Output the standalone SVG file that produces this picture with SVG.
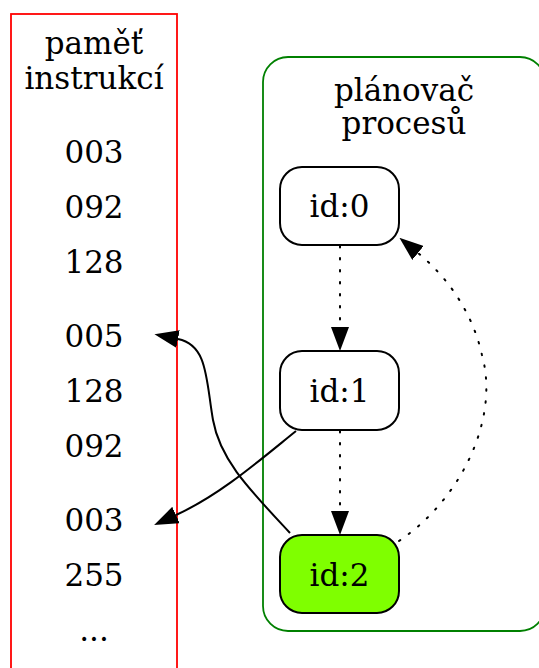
<svg xmlns="http://www.w3.org/2000/svg" width="539" height="668" viewBox="0 0 539 668">
  <style>
    text { font-family: "DejaVu Serif", "Liberation Serif", serif; font-size: 31px; fill: #000; text-anchor: middle; }
    .node rect { stroke: #000; stroke-width: 2; }
    .edge { fill: none; stroke: #000; stroke-width: 2; }
    .dotted { stroke-dasharray: 1.5 10.5; stroke-linecap: round; }
  </style>
  <defs>
    <marker id="arrow" viewBox="0 0 24 18" refX="0" refY="9" markerWidth="24" markerHeight="18" markerUnits="userSpaceOnUse" orient="auto">
      <path d="M0,0 L24,9 L0,18 Z" fill="#000"/>
    </marker>
  </defs>

  <rect width="539" height="668" fill="#fff"/>

  <!-- instruction memory -->
  <g id="pamet">
    <rect x="11" y="14" width="166" height="700" fill="none" stroke="#ff0000" stroke-width="1.8"/>
    <text x="94" y="54">paměť</text>
    <text x="94" y="89">instrukcí</text>
    <text x="94" y="163">003</text>
    <text x="94" y="218">092</text>
    <text x="94" y="273">128</text>
    <text x="94" y="347">005</text>
    <text x="94" y="402">128</text>
    <text x="94" y="457">092</text>
    <text x="94" y="531">003</text>
    <text x="94" y="586">255</text>
    <text x="94" y="641">...</text>
  </g>

  <!-- process scheduler -->
  <g id="planovac">
    <rect x="263" y="57" width="282" height="574" rx="25" ry="25" fill="none" stroke="#008000" stroke-width="1.8"/>
    <text x="404" y="101">plánovač</text>
    <text x="404" y="134">procesů</text>
  </g>

  <g id="id0" class="node">
    <rect x="280" y="167" width="119" height="78" rx="22" ry="22" fill="#fff"/>
    <text x="339.5" y="217">id:0</text>
  </g>
  <g id="id1" class="node">
    <rect x="280" y="351" width="119" height="79" rx="22" ry="22" fill="#fff"/>
    <text x="339.5" y="402">id:1</text>
  </g>
  <g id="id2" class="node">
    <rect x="280" y="535" width="119" height="78" rx="22" ry="22" fill="#7fff00"/>
    <text x="339.5" y="586">id:2</text>
  </g>

  <!-- connectors -->
  <g id="edges">
    <path class="edge dotted" d="M340,246 L340,327" marker-end="url(#arrow)"/>
    <path class="edge dotted" d="M340,431 L340,511" marker-end="url(#arrow)"/>
    <path class="edge dotted" d="M399,541 C460,500 500,420 482,355 C472,310 445,275 418,253" marker-end="url(#arrow)"/>
    <path class="edge" d="M290,533 C250,490 220,460 213,420 C206,380 208,345 178,339" marker-end="url(#arrow)"/>
    <path class="edge" d="M296,431 C260,460 220,495 176,515" marker-end="url(#arrow)"/>
  </g>
</svg>
